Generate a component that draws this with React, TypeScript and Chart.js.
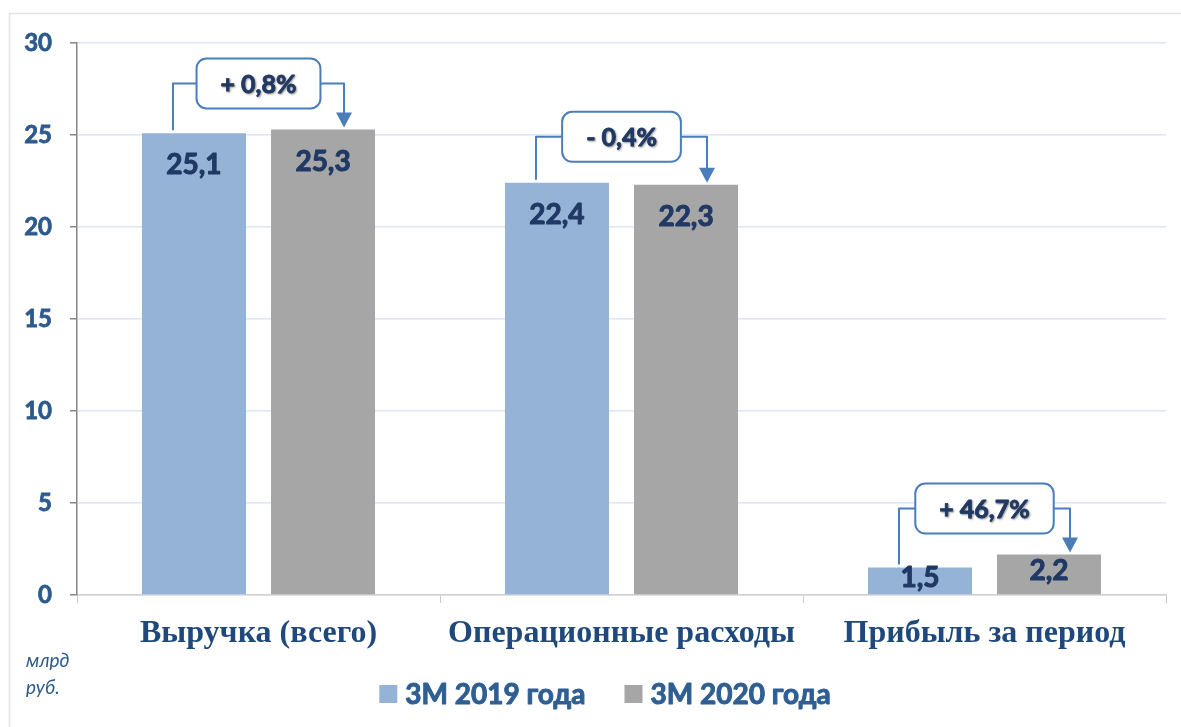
import React, { useEffect, useRef } from "react";
import { Chart, registerables } from "chart.js";

Chart.register(...registerables);

const categories = ["Выручка (всего)", "Операционные расходы", "Прибыль за период"];
const seriesNames = ["3М 2019 года", "3М 2020 года"];
const values2019 = [25.1, 22.4, 1.5];
const values2020 = [25.3, 22.3, 2.2];
const changeLabels = ["+ 0,8%", "- 0,4%", "+ 46,7%"];
const yTicks = [0, 5, 10, 15, 20, 25, 30];
const unitLines = ["млрд", "руб."];

const seriesColors = ["#95b3d7", "#a6a6a6"];
const FONT = "Lato, 'Open Sans', sans-serif";

const fmt = (v: number) => v.toFixed(1).replace(".", ",");

const heavyText = (ctx: any, text: string, x: number, y: number, w = 0.9) => {
  ctx.lineWidth = w;
  ctx.strokeStyle = ctx.fillStyle;
  ctx.lineJoin = "round";
  ctx.strokeText(text, x, y);
  ctx.fillText(text, x, y);
};

const overlay = {
  id: "overlay",
  beforeDraw(chart: any) {
    const ctx = chart.ctx;
    ctx.save();
    ctx.fillStyle = "#ffffff";
    ctx.fillRect(0, 0, chart.width, chart.height);
    ctx.strokeStyle = "#e4e4e4";
    ctx.lineWidth = 1.5;
    ctx.strokeRect(9.5, 13.5, chart.width + 20, chart.height + 20);
    ctx.restore();
  },
  afterDatasetsDraw(chart: any) {
    const ctx = chart.ctx;
    const m0 = chart.getDatasetMeta(0);
    const m1 = chart.getDatasetMeta(1);
    ctx.save();
    // value labels
    ctx.font = `bold 28px ${FONT}`;
    ctx.fillStyle = "#1f3864";
    ctx.textAlign = "center";
    ctx.textBaseline = "middle";
    [m0, m1].forEach((meta: any, di: number) => {
      const vals = di === 0 ? values2019 : values2020;
      meta.data.forEach((bar: any, i: number) => {
        const { x, y, base } = bar.getProps(["x", "y", "base"], true);
        const cy = Math.min(y + 32, (y + base) / 2 - 3);
        heavyText(ctx, fmt(vals[i]), x, cy, 1);
      });
    });

    // change annotations
    const lineColor = "#4a7ebb";
    changeLabels.forEach((text, i) => {
      const b0 = m0.data[i].getProps(["x", "y"], true);
      const b1 = m1.data[i].getProps(["x", "y"], true);
      const x0 = b0.x - 21;
      const x1 = b1.x + 21;
      const hy = Math.min(b0.y, b1.y) - 46;
      ctx.font = `bold 25px ${FONT}`;
      const tw = ctx.measureText(text).width;
      const bw = tw + 48;
      const bh = 50;
      const cx = (x0 + x1) / 2;
      ctx.strokeStyle = lineColor;
      ctx.lineWidth = 2;
      ctx.beginPath();
      ctx.moveTo(x0, b0.y - 3);
      ctx.lineTo(x0, hy);
      ctx.lineTo(cx - bw / 2, hy);
      ctx.moveTo(cx + bw / 2, hy);
      ctx.lineTo(x1, hy);
      ctx.lineTo(x1, b1.y - 16);
      ctx.stroke();
      ctx.fillStyle = lineColor;
      ctx.beginPath();
      ctx.moveTo(x1 - 8, b1.y - 17);
      ctx.lineTo(x1 + 8, b1.y - 17);
      ctx.lineTo(x1, b1.y - 2);
      ctx.closePath();
      ctx.fill();
      ctx.beginPath();
      ctx.roundRect(cx - bw / 2, hy - bh / 2, bw, bh, 10);
      ctx.fillStyle = "#ffffff";
      ctx.fill();
      ctx.stroke();
      ctx.save();
      ctx.shadowColor = "rgba(0,0,0,0.35)";
      ctx.shadowOffsetX = 1;
      ctx.shadowOffsetY = 1.5;
      ctx.shadowBlur = 2;
      ctx.fillStyle = "#1f3864";
      ctx.textAlign = "center";
      ctx.textBaseline = "middle";
      heavyText(ctx, text, cx, hy + 1, 0.8);
      ctx.restore();
    });
    ctx.restore();
  },
  afterDraw(chart: any) {
    const ctx = chart.ctx;
    ctx.save();
    // unit text
    ctx.font = `italic 19px ${FONT}`;
    ctx.fillStyle = "#2c5a8c";
    ctx.textAlign = "left";
    ctx.textBaseline = "middle";
    unitLines.forEach((t, i) => ctx.fillText(t, 26, 661 + i * 27));

    // legend
    ctx.font = `bold 28px ${FONT}`;
    const box = 18;
    const gap = 8;
    const spacing = 39;
    const widths = seriesNames.map((s) => ctx.measureText(s).width);
    const total = widths.reduce((a, w) => a + box + gap + w, 0) + spacing * (seriesNames.length - 1);
    let x = 605 - total / 2;
    const cy = 694;
    seriesNames.forEach((s, i) => {
      ctx.fillStyle = seriesColors[i];
      ctx.fillRect(x, cy - box / 2, box, box);
      ctx.fillStyle = "#2f5e93";
      ctx.textBaseline = "middle";
      heavyText(ctx, s, x + box + gap, cy + 1, 1);
      x += box + gap + widths[i] + spacing;
    });
    ctx.restore();
  },
};

export default function App() {
  const ref = useRef<HTMLCanvasElement>(null);
  useEffect(() => {
    if (!ref.current) return;
    const chart = new Chart(ref.current, {
      type: "bar",
      data: {
        labels: categories,
        datasets: [
          {
            label: seriesNames[0],
            data: values2019,
            backgroundColor: seriesColors[0],
            categoryPercentage: 0.711,
            barPercentage: 0.806,
          },
          {
            label: seriesNames[1],
            data: values2020,
            backgroundColor: seriesColors[1],
            categoryPercentage: 0.711,
            barPercentage: 0.806,
          },
        ],
      },
      options: {
        animation: false,
        responsive: false,
        layout: { padding: { top: 43, right: 15, left: 0, bottom: 0 } },
        plugins: {
          legend: { display: false },
          tooltip: { enabled: false },
        },
        scales: {
          x: {
            grid: {
              display: true,
              drawOnChartArea: false,
              drawTicks: true,
              tickLength: 8,
              color: "#c8c8c8",
              offset: true,
            },
            border: { display: true, color: "#d0d0d0", width: 1.5 },
            ticks: {
              font: { family: "'Liberation Serif', serif", weight: "bold", size: 32 },
              color: "#1f497d",
              padding: 12,
              maxRotation: 0,
            },
            afterFit: (s: any) => {
              s.height = 132;
            },
          },
          y: {
            min: 0,
            max: 30,
            afterBuildTicks: (s: any) => {
              s.ticks = yTicks.map((v) => ({ value: v }));
            },
            ticks: {
              font: { family: FONT, weight: "bold", size: 24 },
              color: "#2c5a8c",
              textStrokeColor: "#2c5a8c",
              textStrokeWidth: 0.8,
              padding: 18,
            },
            grid: { color: "#dce6f2", tickColor: "#868686", tickLength: 7, lineWidth: 1.5 },
            border: { color: "#868686", width: 1.5 },
            afterFit: (s: any) => {
              s.width = 77;
            },
          },
        },
      },
      plugins: [overlay],
    });
    return () => chart.destroy();
  }, []);
  return (
    <div style={{ position: "fixed", left: 0, top: 0, width: 1181, height: 727, background: "#fff" }}>
      <canvas ref={ref} width={1181} height={727} style={{ display: "block" }} />
    </div>
  );
}
